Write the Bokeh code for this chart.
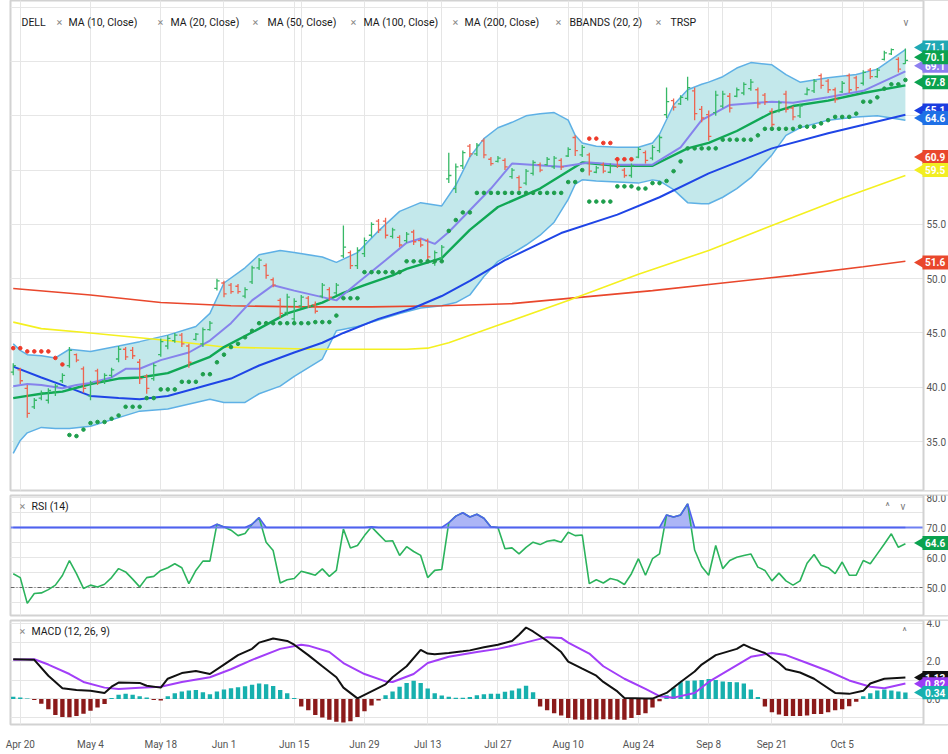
import numpy as np
from bokeh.plotting import figure
from bokeh.layouts import column
from bokeh.models import Range1d, FixedTicker, Grid
from bokeh.core.properties import value
from bokeh.embed import file_html
from bokeh.resources import INLINE

# ---------------- data ----------------
FIRST_BAR = -1   # first bar (Apr 17) is one trading day before the "Apr 20" tick

opens = [41.4, 41.6, 39.9, 38.2, 39.0, 38.8, 39.6, 40.6, 42.0, 43.0,
         41.7, 39.2, 41.5, 40.6, 41.1, 42.6, 43.5, 43.4, 42.3, 41.0,
         40.8, 43.0, 43.8, 44.3, 44.8, 43.8, 44.4, 44.0, 45.3, 49.1,
         49.6, 49.4, 49.3, 48.4, 49.7, 51.0, 51.2, 49.9, 48.0, 46.9,
         46.3, 47.5, 48.2, 47.6, 48.4, 49.0, 48.7, 52.1, 52.4, 51.2,
         52.3, 54.0, 55.3, 55.3, 53.9, 53.8, 53.5, 54.3, 53.5, 53.5,
         51.4, 51.9, 59.2, 58.3, 60.4, 62.2, 61.5, 62.7, 61.0, 60.8,
         60.9, 59.4, 59.3, 58.8, 59.7, 60.5, 60.5, 60.3, 60.9, 61.3,
         63.0, 61.4, 61.4, 59.8, 60.5, 59.8, 61.0, 60.0, 59.5, 61.2,
         61.6, 61.1, 61.8, 65.1, 66.4, 66.1, 66.6, 67.3, 65.6, 65.1,
         65.3, 65.9, 66.8, 66.8, 67.1, 67.5, 67.4, 66.9, 65.4, 65.4,
         67.0, 65.7, 65.0, 67.0, 67.3, 68.7, 68.2, 67.4, 67.2, 68.7,
         68.5, 68.0, 69.2, 68.6, 70.2, 70.7, 70.2, 69.8]
highs = [42.2, 41.8, 40.2, 39.0, 39.7, 39.9, 40.3, 41.3, 43.7, 43.1,
         41.9, 40.6, 41.7, 41.3, 41.8, 43.8, 43.7, 43.7, 42.6, 41.2,
         42.2, 44.5, 44.8, 45.0, 45.0, 44.0, 45.0, 45.5, 46.1, 50.0,
         49.8, 49.6, 49.5, 49.2, 51.2, 51.9, 51.4, 50.1, 48.2, 48.6,
         48.2, 48.5, 48.4, 47.9, 49.6, 49.2, 49.6, 54.9, 52.6, 52.9,
         53.8, 55.2, 55.5, 55.6, 54.7, 54.0, 54.3, 54.5, 53.7, 53.7,
         52.6, 53.1, 61.6, 60.6, 61.8, 62.4, 62.5, 62.9, 61.2, 61.3,
         61.1, 60.2, 59.5, 60.1, 60.9, 60.7, 61.2, 61.3, 61.1, 62.1,
         63.2, 62.3, 61.6, 60.4, 60.7, 60.6, 61.2, 60.2, 60.6, 62.1,
         61.8, 62.3, 63.2, 67.6, 66.6, 66.9, 68.6, 67.6, 65.9, 65.5,
         67.3, 67.3, 67.1, 67.6, 68.1, 68.4, 67.6, 67.1, 65.7, 66.4,
         67.3, 65.9, 66.1, 67.6, 68.4, 68.9, 68.4, 67.6, 68.2, 68.9,
         68.7, 69.2, 69.4, 69.4, 71.0, 71.2, 70.4, 71.2]
lows = [41.1, 40.3, 37.2, 38.0, 38.8, 38.5, 39.2, 40.4, 41.8, 42.3,
        39.5, 38.8, 40.2, 40.3, 40.9, 42.3, 42.5, 42.6, 40.3, 39.4,
        40.6, 42.8, 43.5, 44.1, 43.7, 41.8, 44.3, 43.7, 45.2, 48.9,
        48.3, 48.6, 48.6, 48.2, 49.5, 50.8, 50.0, 49.2, 46.4, 46.6,
        45.9, 47.3, 47.3, 46.8, 48.2, 48.0, 48.5, 51.9, 50.9, 50.9,
        52.0, 53.8, 54.2, 53.7, 53.7, 52.9, 53.3, 53.1, 52.9, 51.7,
        51.2, 51.7, 58.8, 57.9, 60.1, 61.2, 61.3, 61.1, 60.4, 60.7,
        60.0, 59.2, 58.1, 58.6, 59.5, 59.8, 60.4, 60.1, 60.0, 61.2,
        61.3, 61.2, 59.5, 59.7, 59.7, 59.7, 60.2, 59.3, 59.3, 61.1,
        60.6, 60.9, 61.6, 64.8, 65.5, 66.0, 66.4, 64.6, 64.4, 62.7,
        65.0, 65.7, 65.3, 66.7, 66.9, 67.3, 65.7, 66.0, 63.8, 65.3,
        65.3, 64.6, 64.8, 66.9, 67.1, 67.5, 67.1, 66.2, 67.1, 67.1,
        67.3, 67.8, 68.4, 68.5, 70.1, 70.6, 69.0, 69.8]
closes = [42.0, 40.6, 37.6, 38.8, 39.5, 39.7, 40.1, 41.1, 43.4, 42.5,
          39.9, 40.4, 40.5, 41.1, 41.6, 43.5, 42.8, 42.9, 40.8, 39.9,
          42.0, 44.2, 44.5, 44.8, 44.0, 42.3, 44.9, 45.3, 45.9, 49.8,
          48.6, 48.8, 48.8, 49.0, 51.0, 51.7, 50.3, 49.4, 46.8, 48.3,
          47.9, 48.3, 47.5, 47.0, 49.4, 48.3, 49.4, 52.9, 51.2, 52.6,
          53.5, 55.0, 54.5, 54.0, 54.5, 53.1, 54.1, 53.4, 53.1, 52.0,
          52.4, 52.9, 59.5, 60.3, 61.6, 61.5, 62.3, 61.4, 60.6, 61.1,
          60.3, 60.0, 58.4, 59.9, 60.7, 60.0, 61.0, 61.1, 60.3, 61.9,
          61.8, 62.1, 59.9, 60.2, 59.9, 60.4, 60.4, 59.5, 60.4, 61.9,
          60.9, 62.1, 63.0, 66.3, 65.8, 66.7, 67.6, 65.2, 64.8, 63.1,
          66.9, 67.0, 65.7, 67.4, 67.9, 68.1, 66.1, 66.3, 64.2, 66.2,
          65.6, 64.9, 65.9, 67.4, 68.2, 67.8, 67.4, 66.5, 68.0, 67.4,
          67.6, 69.0, 68.6, 69.2, 70.8, 71.1, 69.3, 70.1]

tick_labels = ["Apr 20", "May 4", "May 18", "Jun 1", "Jun 15", "Jun 29", "Jul 13",
               "Jul 27", "Aug 10", "Aug 24", "Sep 8", "Sep 21", "Oct 5"]
tick_bars = [0, 10, 20, 29, 39, 49, 58, 68, 78, 88, 98, 107, 117]

ma10_x = [-1, 1, 3, 6, 8, 10, 13, 15, 17, 20, 24, 27, 30, 33, 36, 39, 43, 45, 48, 52,
          55, 57, 59, 61, 64, 67, 70, 77, 81, 85, 90, 94, 97, 101, 107, 110, 115, 120, 126]
ma10 = [40.1, 40.3, 40.2, 39.9, 40.2, 40.4, 40.9, 41.7, 41.7, 42.5, 43.2, 44.3, 45.9, 48.0,
        49.4, 48.9, 48.3, 48.0, 49.6, 51.7, 53.3, 53.7, 53.2, 54.3, 56.3, 58.3, 60.6, 60.3,
        60.7, 60.5, 60.5, 62.1, 64.6, 66.0, 66.3, 66.2, 66.7, 67.3, 69.1]

ma20_x = [-1, 1, 3, 6, 10, 14, 17, 21, 27, 29, 34, 38, 43, 46, 49, 53, 55, 60, 64, 68,
          74, 80, 85, 90, 95, 98, 102, 107, 110, 115, 120, 126]
ma20 = [39.0, 39.2, 39.4, 39.6, 40.3, 40.8, 40.9, 41.3, 42.8, 43.7, 45.4, 46.8, 47.8, 48.7,
        49.4, 50.3, 50.9, 51.9, 54.5, 56.6, 58.3, 60.7, 60.4, 60.4, 62.0, 62.5, 63.6, 65.3,
        65.9, 66.4, 67.1, 67.8]

ma50_x = [-1, 3, 6, 10, 14, 17, 21, 25, 30, 34, 39, 43, 46, 51, 56, 60, 64, 69, 77, 85,
          91, 98, 107, 115, 126]
ma50 = [41.9, 40.9, 40.2, 39.2, 39.0, 38.9, 39.2, 39.9, 40.8, 42.0, 43.2, 44.1, 45.0, 46.3,
        47.3, 48.4, 49.8, 51.7, 54.2, 55.9, 57.5, 59.7, 62.0, 63.4, 65.1]

ma100_x = [-1, 3, 10, 21, 29, 42, 55, 58, 61, 68, 78, 88, 98, 107, 117, 126]
ma100 = [46.0, 45.4, 45.0, 44.3, 43.7, 43.5, 43.5, 43.6, 44.1, 45.7, 48.0, 50.4, 52.6,
         54.9, 57.4, 59.5]

ma200_x = [-1, 10, 20, 30, 40, 50, 60, 70, 80, 90, 100, 110, 120, 126]
ma200 = [49.1, 48.5, 47.8, 47.5, 47.4, 47.4, 47.5, 47.7, 48.3, 48.9, 49.6, 50.3, 51.1, 51.6]

bb_x = [-1, 0, 1, 3, 5, 7, 10, 14, 17, 21, 25, 27, 29, 32, 34, 37, 39, 43, 45, 48,
        51, 54, 57, 60, 62, 64, 66, 68, 70, 72, 74, 76, 78, 79, 80, 82, 85, 88, 90, 91,
        93, 95, 97, 98, 100, 102, 104, 107, 109, 111, 115, 119, 122, 126]
bb_upper = [44.0, 43.4, 43.0, 42.9, 42.7, 43.5, 43.3, 43.8, 44.2, 44.8, 45.6, 46.8, 49.6,
            51.0, 52.2, 52.6, 52.4, 52.0, 51.5, 52.4, 54.4, 56.2, 57.0, 56.7, 58.6, 61.2,
            62.9, 63.9, 64.4, 65.0, 65.2, 65.3, 64.6, 63.2, 62.5, 62.2, 62.1, 62.1, 62.5,
            63.3, 66.0, 67.4, 67.9, 68.1, 68.6, 69.4, 69.9, 69.7, 68.8, 68.1, 68.5, 68.8,
            69.3, 71.1]
bb_lower = [33.9, 35.1, 35.8, 36.3, 36.2, 36.2, 36.4, 37.2, 37.8, 38.0, 38.6, 38.9, 38.6,
            38.6, 39.4, 40.1, 41.0, 42.6, 45.2, 45.6, 46.2, 46.8, 47.3, 47.5, 47.8, 48.5,
            50.2, 51.6, 52.3, 53.1, 54.0, 55.2, 57.3, 58.7, 59.1, 59.0, 58.9, 58.8, 59.1,
            59.0, 58.2, 57.0, 56.9, 56.9, 57.5, 58.3, 59.3, 61.4, 63.2, 63.9, 64.6, 64.9,
            65.0, 64.6]

trsp_up_x = list(range(7, 127))
trsp_up = [35.6, 35.5, 36.1, 36.7, 36.8, 36.8, 37.1, 37.4, 38.2, 38.2,
           38.2, 39.0, 39.0, 39.8, 39.8, 39.8, 40.5, 40.5, 40.5, 41.2,
           41.2, 42.3, 43.0, 43.7, 44.0, 44.6, 45.2, 45.9, 45.9, 45.9,
           45.9, 45.9, 45.9, 45.9, 45.9, 46.0, 46.0, 46.0, 46.6, 48.2,
           48.2, 48.2, 50.6, 50.6, 50.6, 50.6, 50.6, 50.6, 51.6, 51.6,
           51.6, 51.6, 51.6, 51.6, 54.4, 55.4, 56.1, 56.1, 57.9, 57.9,
           57.9, 57.9, 57.9, 57.9, 57.9, 57.9, 57.9, 57.9, 57.9, 57.9,
           57.9, 58.9, 58.9, 60.0, 57.1, 57.1, 57.1, 57.1, 58.5, 58.5,
           58.5, 58.3, 58.3, 58.8, 58.8, 59.0, 59.9, 60.8, 62.0, 62.0,
           62.0, 62.0, 62.0, 62.8, 62.8, 62.8, 62.8, 62.8, 63.2, 63.8,
           63.8, 63.8, 63.8, 63.8, 64.0, 64.0, 64.0, 64.3, 64.6, 64.9,
           64.9, 64.9, 65.2, 66.3, 66.3, 66.7, 67.5, 67.9, 67.9, 68.3]
trsp_dn_x = [-1, 0, 1, 2, 3, 4, 5, 6, 81, 82, 83, 84, 85, 86, 87]
trsp_dn = [43.6, 43.6, 43.3, 43.3, 43.3, 43.3, 42.7, 42.1, 62.9, 62.9, 62.5, 62.5, 61.0, 61.0, 61.0]

rsi = [54.6, 53.3, 44.7, 48.0, 48.2, 49.3, 50.8, 54.0, 59.0, 54.6,
       49.7, 50.8, 50.2, 51.1, 53.3, 56.3, 55.2, 52.8, 50.2, 53.3,
       53.7, 55.7, 56.6, 57.9, 56.6, 51.3, 55.7, 58.8, 58.8, 71.1,
       70.2, 69.1, 67.3, 68.0, 71.1, 73.3, 65.1, 62.3, 51.5, 52.6,
       53.0, 55.4, 54.8, 54.1, 56.2, 53.7, 55.7, 69.5, 63.2, 64.0,
       67.3, 70.2, 67.8, 65.4, 65.6, 60.7, 63.6, 62.0, 60.7, 53.3,
       55.7, 56.0, 71.6, 73.8, 74.9, 73.5, 74.4, 73.1, 70.2, 70.0,
       62.9, 63.2, 61.2, 63.4, 65.1, 64.3, 65.4, 65.8, 65.1, 68.4,
       67.3, 67.5, 51.3, 52.6, 51.5, 53.0, 52.4, 51.0, 54.6, 59.6,
       54.1, 59.6, 61.2, 74.2, 73.5, 74.2, 77.9, 62.5, 57.0, 54.1,
       64.0, 56.3, 59.0, 60.1, 60.7, 61.2, 56.8, 55.7, 52.2, 54.8,
       52.2, 50.8, 52.2, 58.1, 61.0, 57.4, 56.6, 54.6, 58.5, 54.1,
       54.1, 59.0, 57.9, 61.2, 64.5, 67.9, 63.4, 64.6]

macd_x = [-1, 2, 4, 6, 8, 10, 12, 13, 14, 17, 18, 20, 21, 23, 25, 27, 29, 31, 33, 34,
          36, 38, 39, 41, 43, 45, 46, 48, 50, 52, 53, 55, 57, 58, 59, 61, 63, 64, 66, 68,
          70, 71, 72, 73, 75, 77, 78, 80, 82, 83, 85, 86, 89, 90, 92, 94, 96, 97, 99, 102,
          103, 104, 106, 108, 109, 111, 113, 114, 116, 118, 120, 121, 123, 126]
macd_line = [2.10, 2.07, 1.23, 0.57, 0.48, 0.43, 0.32, 0.65, 0.87, 0.85,
             0.70, 0.60, 1.07, 1.37, 1.48, 1.32, 1.82, 2.32, 2.65, 2.98,
             3.20, 3.07, 2.87, 2.32, 1.73, 1.15, 0.60, 0.03, 0.40, 0.77,
             1.15, 1.73, 2.60, 2.40, 2.37, 2.43, 2.52, 2.57, 2.73, 2.87,
             3.07, 3.40, 3.78, 3.57, 3.07, 2.48, 1.98, 1.60, 1.23, 0.90,
             0.40, 0.05, 0.02, 0.02, 0.32, 0.90, 1.45, 1.82, 2.32, 2.65,
             2.87, 2.70, 2.43, 1.90, 1.57, 1.40, 1.07, 0.82, 0.32, 0.27,
             0.43, 0.82, 1.07, 1.13]
signal_x = [-1, 2, 4, 7, 9, 12, 14, 17, 20, 23, 27, 30, 33, 37, 40, 41, 44, 46, 49, 52,
            53, 56, 58, 61, 65, 68, 71, 75, 77, 78, 81, 83, 86, 89, 91, 93, 96, 98, 101, 104,
            107, 109, 112, 115, 118, 121, 123, 126]
signal_line = [2.07, 2.10, 1.82, 1.32, 0.90, 0.60, 0.53, 0.60, 0.65, 0.90,
               1.15, 1.57, 2.07, 2.65, 2.87, 2.82, 2.48, 1.90, 1.32, 0.93,
               0.90, 1.32, 1.90, 2.23, 2.48, 2.65, 2.90, 3.27, 3.23, 2.98,
               2.40, 1.73, 1.07, 0.53, 0.15, 0.07, 0.32, 0.90, 1.57, 2.23,
               2.43, 2.32, 1.90, 1.48, 0.98, 0.65, 0.57, 0.82]
macd_hist = [0.12, 0.08, 0.02, -0.05, -0.25, -0.55, -0.85, -0.95, -0.97, -0.90,
             -0.78, -0.62, -0.45, -0.27, 0.05, 0.22, 0.27, 0.22, 0.15, 0.08,
             -0.05, -0.08, 0.15, 0.30, 0.40, 0.45, 0.47, 0.35, 0.25, 0.40,
             0.50, 0.57, 0.62, 0.67, 0.75, 0.82, 0.78, 0.68, 0.48, 0.30,
             0.05, -0.40, -0.60, -0.85, -0.98, -1.10, -1.20, -1.25, -1.18, -0.95,
             -0.65, -0.35, -0.08, 0.20, 0.40, 0.65, 0.85, 0.97, 0.85, 0.55,
             0.30, 0.18, 0.12, 0.07, 0.07, 0.10, 0.20, 0.25, 0.27, 0.28,
             0.38, 0.45, 0.55, 0.70, 0.35, -0.40, -0.60, -0.75, -0.88, -1.00,
             -1.08, -1.10, -1.10, -1.08, -1.07, -1.07, -1.10, -1.10, -1.00, -0.85,
             -0.75, -0.45, -0.12, 0.20, 0.60, 0.88, 0.97, 0.98, 1.00, 1.05,
             1.00, 0.93, 0.90, 0.88, 0.82, 0.50, 0.10, -0.40, -0.70, -0.82,
             -0.90, -0.90, -0.90, -0.88, -0.80, -0.80, -0.70, -0.60, -0.55, -0.38,
             -0.15, 0.15, 0.30, 0.45, 0.50, 0.45, 0.40, 0.34]

price_ticks = [35, 40, 45, 50, 55, 60, 65, 70, 75]
price_tick_labels = ["35.0", "40.0", "45.0", "50.0", "55.0", "60.0", "65.0", "70.0", ""]
rsi_ticks = [50, 60, 70, 80]
rsi_tick_labels = ["50.0", "60.0", "70.0", "80.0"]
macd_ticks = [0, 2, 4]
macd_tick_labels = ["0.0", "2.0", "4.0"]

# last-value tags: (text, background, text colour, y position)
price_tags = [("71.1", "#1fa8b4", "white", 71.3), ("69.1", "#8d7ff0", "white", 69.6),
              ("70.1", "#0ba24f", "white", 70.4), ("67.8", "#0ba24f", "white", 68.1),
              ("65.1", "#1b3de0", "white", 65.5), ("64.6", "#1f70e6", "white", 64.8),
              ("60.9", "#e9472c", "white", 61.2), ("59.5", "#f2ee22", "white", 60.0),
              ("51.6", "#e9472c", "white", 51.5)]
rsi_tags = [("64.6", "#0ba24f", "white", 64.8)]
macd_tags = [("1.13", "#111111", "white", 1.13), ("0.82", "#9b3df5", "white", 0.80),
             ("0.34", "#17b0ae", "white", 0.34)]

# ---------------- styling ----------------
FONT = "Roboto"
GRID = "#e6e6e6"
UP, DOWN = "#36b866", "#ee6450"
xs = np.arange(FIRST_BAR, FIRST_BAR + len(closes))
PX0, PXD = 19.75, 7.025          # page pixel of bar 0 and pixels per bar
W = 948


def px_to_bar(px):
    return (px - PX0) / PXD


x_range = Range1d(px_to_bar(10), px_to_bar(W))
AXIS_X = px_to_bar(923)


def make_fig(height, y0, y1, yticks, top, bottom, xaxis=False):
    f = figure(width=W, height=height, x_range=x_range, y_range=Range1d(y0, y1),
               output_backend="svg", toolbar_location=None,
               x_axis_location="below" if xaxis else None, y_axis_location=None,
               min_border_left=10, min_border_right=0, min_border_top=top,
               min_border_bottom=bottom)
    f.background_fill_color = "white"
    f.border_fill_color = "white"
    f.outline_line_color = "#d2d2d2"
    f.outline_line_width = 2
    f.add_layout(Grid(dimension=1, ticker=FixedTicker(ticks=yticks), grid_line_color=GRID))
    f.add_layout(Grid(dimension=0, ticker=FixedTicker(ticks=tick_bars), grid_line_color=GRID))
    return f


def right_axis(f, y0, y1, ticks, labels, tags, px_per_unit):
    f.quad(left=AXIS_X, right=x_range.end + 1, bottom=y0, top=y1,
           fill_color="white", line_color=None)
    f.line([AXIS_X, AXIS_X], [y0, y1], line_color="#d2d2d2", line_width=2)
    f.text(x=[px_to_bar(926)] * len(ticks), y=ticks, text=labels, text_font=value(FONT),
           text_font_size="10px", text_color="#555555", text_baseline="middle",
           text_align="left")
    half = 7.0 / px_per_unit
    for text, bg, fg, yv in tags:
        f.scatter([px_to_bar(921)], [yv], marker="triangle", angle=np.pi / 2, size=13,
                  fill_color=bg, line_color=None)
        f.quad(left=px_to_bar(922), right=x_range.end + 1, bottom=yv - half, top=yv + half,
               fill_color=bg, line_color=None)
        f.text(x=[px_to_bar(924.5)], y=[yv], text=[text], text_font=value(FONT),
               text_font_size="10px", text_font_style="bold", text_color=fg,
               text_baseline="middle", text_align="left")


# ---------------- main price panel ----------------
P_Y0, P_Y1 = 30.49, 75.62
p = make_fig(493, P_Y0, P_Y1, price_ticks, top=0, bottom=3)

p.varea(x=bb_x, y1=bb_lower, y2=bb_upper, fill_color="#c3e8eb", fill_alpha=1.0)
p.line(bb_x, bb_upper, line_color="#5eb0e5", line_width=1.5)
p.line(bb_x, bb_lower, line_color="#5eb0e5", line_width=1.5)
p.line(ma200_x, ma200, line_color="#e9472c", line_width=1.6)
p.line(ma100_x, ma100, line_color="#f4f020", line_width=1.6)
p.line(ma50_x, ma50, line_color="#1f45e6", line_width=2)
p.line(ma20_x, ma20, line_color="#10a855", line_width=2.4)
p.line(ma10_x, ma10, line_color="#8683ec", line_width=2)

bar_col = [UP if c >= o else DOWN for o, c in zip(opens, closes)]
p.segment(x0=xs, y0=lows, x1=xs, y1=highs, line_color=bar_col, line_width=1.3)
p.segment(x0=xs - 0.38, y0=opens, x1=xs, y1=opens, line_color=bar_col, line_width=1.3)
p.segment(x0=xs, y0=closes, x1=xs + 0.38, y1=closes, line_color=bar_col, line_width=1.3)

p.scatter(trsp_up_x, trsp_up, size=3.6, color="#1e9e4c")
p.scatter(trsp_dn_x, trsp_dn, size=3.6, color="#ee3a2a")

hdr_y = 35 + (441 - 22) / 10.857
hdr_items = [("DELL", 21), ("MA (10, Close)", 68), ("MA (20, Close)", 170),
             ("MA (50, Close)", 267), ("MA (100, Close)", 363), ("MA (200, Close)", 464),
             ("BBANDS (20, 2)", 569), ("TRSP", 670)]
p.text(x=[px_to_bar(px) for _, px in hdr_items], y=[hdr_y] * len(hdr_items),
       text=[t for t, _ in hdr_items], text_font=value(FONT), text_font_size="10.5px",
       text_color="#1a1a1a", text_baseline="middle", text_align="left")
x_marks = [56, 157, 252, 350, 452, 555, 655]
p.text(x=[px_to_bar(px) for px in x_marks], y=[hdr_y] * len(x_marks),
       text=["×"] * len(x_marks), text_font=value(FONT), text_font_size="11px",
       text_color="#8a8a8a", text_baseline="middle", text_align="left")
p.text(x=[px_to_bar(903)], y=[hdr_y], text=["v"], text_font=value(FONT),
       text_font_size="10px", text_color="#777777", text_baseline="middle")
right_axis(p, P_Y0, P_Y1, price_ticks, price_tick_labels, price_tags, 10.857)

# ---------------- RSI panel ----------------
R_Y0, R_Y1 = 40.67, 80.67
r = make_fig(125, R_Y0, R_Y1, rsi_ticks, top=2, bottom=3)
rsi_arr = np.array(rsi)
rsi_top = np.maximum(rsi_arr, 70)
r.varea(x=xs, y1=np.full(len(xs), 70.0), y2=rsi_top, fill_color="#9ea8f4", fill_alpha=0.85)
r.line([x_range.start, AXIS_X], [50, 50], line_color="#666666", line_width=1,
       line_dash="4 2 1 2")
r.line(xs, rsi_arr, line_color="#2bb35c", line_width=1.6)
r.line([x_range.start, AXIS_X], [70, 70], line_color="#6f80f2", line_width=1.8)
r.line(xs, rsi_top, line_color="#4f62ee", line_width=1.6)
rsi_hdr_y = 70 + (527 - 506) / 3
r.text(x=[px_to_bar(19)], y=[rsi_hdr_y], text=["×"], text_font=value(FONT),
       text_font_size="11px", text_color="#8a8a8a", text_baseline="middle")
r.text(x=[px_to_bar(31)], y=[rsi_hdr_y], text=["RSI (14)"], text_font=value(FONT),
       text_font_size="10.5px", text_color="#1a1a1a", text_baseline="middle")
r.text(x=[px_to_bar(885), px_to_bar(900)], y=[rsi_hdr_y] * 2, text=["^", "v"],
       text_font=value(FONT), text_font_size="10px", text_color="#777777",
       text_baseline="middle")
right_axis(r, R_Y0, R_Y1, rsi_ticks, rsi_tick_labels, rsi_tags, 3.0)

# ---------------- MACD panel ----------------
M_Y0, M_Y1 = -1.35, 4.15
m = make_fig(134, M_Y0, M_Y1, macd_ticks, top=2, bottom=22, xaxis=True)
hist_col = ["#17b0ae" if h >= 0 else "#8b1a1a" for h in macd_hist]
m.vbar(x=xs, top=macd_hist, bottom=0, width=0.62, fill_color=hist_col, line_color=None)
m.line(signal_x, signal_line, line_color="#a23ef8", line_width=2)
m.line(macd_x, macd_line, line_color="#111111", line_width=2)
macd_hdr_y = M_Y1 - (632 - 620) / 20
m.text(x=[px_to_bar(19)], y=[macd_hdr_y], text=["×"], text_font=value(FONT),
       text_font_size="11px", text_color="#8a8a8a", text_baseline="middle")
m.text(x=[px_to_bar(31)], y=[macd_hdr_y], text=["MACD (12, 26, 9)"], text_font=value(FONT),
       text_font_size="10.5px", text_color="#1a1a1a", text_baseline="middle")
m.text(x=[px_to_bar(902)], y=[macd_hdr_y], text=["^"], text_font=value(FONT),
       text_font_size="10px", text_color="#777777", text_baseline="middle")
xa = m.xaxis[0]
xa.ticker = FixedTicker(ticks=tick_bars)
xa.major_label_overrides = {b: t for b, t in zip(tick_bars, tick_labels)}
xa.axis_line_color = None
xa.major_tick_line_color = None
xa.minor_tick_line_color = None
xa.major_label_standoff = 8
xa.major_label_text_font = FONT
xa.major_label_text_font_size = "10px"
xa.major_label_text_color = "#555555"
right_axis(m, M_Y0, M_Y1, macd_ticks, macd_tick_labels, macd_tags, 20.0)

layout = column(p, r, m, spacing=0)
open("out.html", "w").write(file_html(layout, INLINE))
